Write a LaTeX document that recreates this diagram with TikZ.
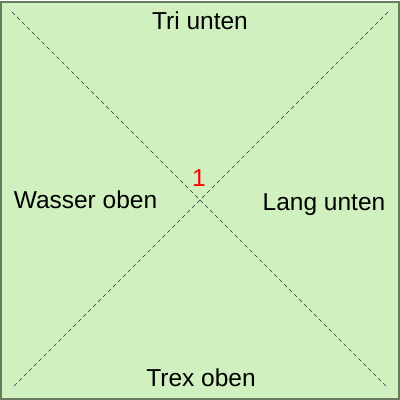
\documentclass[tikz,border=0pt]{standalone}
\usepackage{fontspec}
\setmainfont{Liberation Sans}
\definecolor{areafill}{RGB}{208,240,192}
\definecolor{areaedge}{RGB}{104,122,96}
\tikzset{
  label text/.style={font=\fontsize{24.5bp}{28bp}\selectfont, inner sep=0pt, anchor=base},
  diagonal/.style={dash pattern=on 4bp off 3bp, line width=0.6bp, black!80}
}

\begin{document}
\begin{tikzpicture}[x=1bp,y=-1bp]
      \useasboundingbox (0,0) rectangle (400,400);
      \draw[fill=areafill, draw=areaedge, line width=2bp] (1.5,1.5) rectangle (398.5,398.5);
      % diagonals
      \coordinate (tl) at (12,12);
      \coordinate (tr) at (388,12);
      \coordinate (bl) at (12,388);
      \coordinate (br) at (388,388);
      \draw[diagonal] (tl) -- (br);
      \draw[diagonal] (tr) -- (bl);
      \node[label text] (top) at (200,29) {Tri unten};
      \node[label text] (left) at (85.5,208) {Wasser oben};
      \node[label text] (right) at (324,210) {Lang unten};
      \node[label text] (bottom) at (201,386.5) {Trex oben};
      \node[label text, text=red] (num) at (199,186) {1};
    \end{tikzpicture}
\end{document}
